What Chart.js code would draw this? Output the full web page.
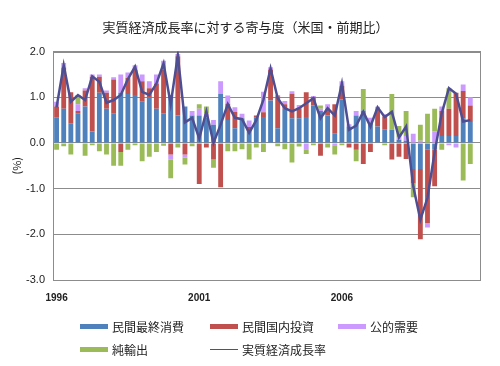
<!DOCTYPE html>
<html><head><meta charset="utf-8">
<script src="https://cdn.jsdelivr.net/npm/chart.js@4"></script>
<style>
html,body{margin:0;padding:0;background:#fff;}
#wrap{position:relative;width:500px;height:366px;overflow:hidden;}
#c{position:absolute;left:0;top:0;}
#legend{position:absolute;left:0;top:0;width:500px;height:366px;pointer-events:none;font-family:"Noto Sans CJK JP",sans-serif;font-size:12px;color:#222;}
.item{position:absolute;display:flex;align-items:center;height:16px;white-space:nowrap;}
.sw{display:inline-block;width:28px;margin-right:4px;}
</style></head>
<body><div id="wrap"><canvas id="c" width="500" height="366"></canvas><div id="legend"></div></div>
<script>
const categories = [
 '1996Q1','1996Q2','1996Q3','1996Q4','1997Q1','1997Q2','1997Q3','1997Q4','1998Q1','1998Q2',
 '1998Q3','1998Q4','1999Q1','1999Q2','1999Q3','1999Q4','2000Q1','2000Q2','2000Q3','2000Q4',
 '2001Q1','2001Q2','2001Q3','2001Q4','2002Q1','2002Q2','2002Q3','2002Q4','2003Q1','2003Q2',
 '2003Q3','2003Q4','2004Q1','2004Q2','2004Q3','2004Q4','2005Q1','2005Q2','2005Q3','2005Q4',
 '2006Q1','2006Q2','2006Q3','2006Q4','2007Q1','2007Q2','2007Q3','2007Q4','2008Q1','2008Q2',
 '2008Q3','2008Q4','2009Q1','2009Q2','2009Q3','2009Q4','2010Q1','2010Q2','2010Q3','2010Q4'];
const xTickLabels = {'1996Q1':'1996','2001Q1':'2001','2006Q1':'2006'};
const yTicks = [-3,-2,-1,0,1,2];

const consumption = [0.55,0.75,0.43,0.65,0.8,0.25,1.1,0.75,0.64,1.1,
 1.07,1.05,0.9,1.0,0.75,0.65,1.05,0.6,0.8,0.6,
 0.6,0.55,0.4,1.07,0.5,0.32,0.54,0.25,0.55,0.57,
 0.93,0.32,0.75,0.54,0.54,0.57,0.82,0.7,0.6,0.2,
 0.95,0.36,0.6,0.71,0.45,0.36,0.3,0.29,0.07,0.05,
 -0.57,-0.57,-0.15,-0.15,0.15,0.15,0.15,0.54,0.46,null];
const investment = [0.25,0.9,0.68,0.05,0.35,1.2,0.35,0.35,0.75,-0.2,
 0.35,0.55,0.45,0.2,0.55,0.95,-0.25,1.3,-0.25,0.0,
 -0.9,-0.1,-0.36,-0.97,0.36,0.36,0.0,0.1,0.05,0.1,
 0.68,0.7,0.1,0.54,0.22,0.54,0.18,-0.28,0.15,0.65,
 0.3,-0.1,-0.15,-0.46,-0.2,0.36,0.28,-0.36,-0.3,-0.35,
 -0.32,-1.54,-1.6,-0.8,0.55,0.6,0.95,0.6,0.36,null];
const publicDemand = [0.1,0.1,0.0,0.15,0.05,0.05,0.05,0.05,0.05,0.4,
 0.12,0.1,0.15,0.15,0.2,0.2,-0.12,0.05,-0.07,0.1,
 0.15,0.1,0.1,0.28,0.18,0.1,0.1,0.14,0.0,0.45,
 0.05,0.03,0.07,0.05,0.07,-0.14,0.03,0.05,0.1,-0.05,
 0.1,0.05,0.1,0.0,0.1,0.07,0.05,0.0,0.05,0.1,
 0.2,0.05,-0.1,0.25,0.1,-0.05,-0.1,0.14,0.18,null];
const netExports = [-0.15,-0.07,-0.25,0.2,-0.28,-0.05,-0.18,-0.25,-0.5,-0.3,
 -0.15,-0.05,-0.4,-0.3,-0.2,-0.06,-0.4,-0.1,-0.15,-0.07,
 0.1,0.15,-0.18,0.0,-0.18,-0.18,-0.14,-0.36,-0.1,-0.2,
 0.0,-0.07,-0.14,-0.43,-0.08,-0.1,-0.05,0.07,-0.1,-0.2,
 -0.05,0.0,-0.25,0.47,0.0,0.0,-0.05,0.78,0.25,0.55,
 -0.3,0.35,0.64,0.5,-0.15,0.45,0.0,-0.82,-0.46,null];
const realGrowth = [0.78,1.7,0.9,1.05,0.94,1.46,1.34,0.88,0.94,1.05,
 1.4,1.67,1.12,1.05,1.3,1.74,0.85,1.92,0.45,0.55,
 0.1,0.69,0.0,0.4,0.85,0.55,0.52,0.22,0.5,0.95,
 1.63,0.98,0.76,0.69,0.76,0.87,0.98,0.54,0.76,0.6,
 1.3,0.29,0.38,0.68,0.36,0.78,0.57,0.68,0.12,0.36,
 -0.95,-1.68,-1.2,-0.2,0.65,1.2,1.08,0.47,0.5,null];

const seriesNames = ['民間最終消費','民間国内投資','公的需要','純輸出','実質経済成長率'];
const seriesColors = ['#4F81BD','#C0504D','#CC99FF','#9BBB59','#4E4E92'];
const titleText = '実質経済成長率に対する寄与度（米国・前期比）';

const bar = (i, data) => ({type:'bar', label:seriesNames[i], data, backgroundColor:seriesColors[i],
  borderWidth:0, stack:'c', order:1, barPercentage:0.68, categoryPercentage:1});

const boxPlugin = {
  id:'box',
  beforeDatasetsDraw(chart){
    const a = chart.chartArea, ctx = chart.ctx;
    ctx.save(); ctx.strokeStyle = '#8c8c8c'; ctx.lineWidth = 1;
    ctx.strokeRect(Math.round(a.left)+0.5, Math.round(a.top)+0.5, Math.round(a.right-a.left)-1, Math.round(a.bottom-a.top));
    ctx.restore();
  }
};

const chart = new Chart(document.getElementById('c'), {
  data:{
    labels: categories,
    datasets:[
      bar(0, consumption), bar(1, investment), bar(2, publicDemand), bar(3, netExports),
      {type:'line', label:seriesNames[4], data:realGrowth, borderColor:seriesColors[4], borderWidth:2.5,
       pointRadius:0, tension:0, stack:'g', order:0, fill:false}
    ]
  },
  options:{
    responsive:false, animation:false,
    layout:{padding:{left:10, right:19, top:0, bottom:50}},
    plugins:{
      legend:{display:false}, tooltip:{enabled:false},
      title:{display:true, text:titleText, color:'#222',
        font:{size:13, family:'"Noto Sans CJK JP", sans-serif', weight:'normal'},
        padding:{top:19, bottom:17}}
    },
    scales:{
      x:{stacked:true, offset:true, grid:{display:false, drawTicks:false}, border:{display:false},
        ticks:{autoSkip:false, maxRotation:0, minRotation:0, padding:12, color:'#222',
          font:{size:10, family:'"Liberation Sans", sans-serif', weight:'bold'},
          callback(v, i){ return xTickLabels[categories[i]] || ''; }}},
      y:{stacked:true, min:-3, max:2,
        afterBuildTicks(s){ s.ticks = yTicks.map(v => ({value:v})); },
        afterFit(s){ s.width = 43; },
        grid:{color:'#8c8c8c', drawTicks:false, lineWidth:1}, border:{display:false},
        ticks:{padding:8, color:'#222', font:{size:11, family:'"Liberation Sans", sans-serif'},
          callback(v){ return Number(v).toFixed(1); }},
        title:{display:true, text:'(%)', color:'#222', padding:{top:0,bottom:0},
          font:{size:11, family:'"Noto Sans CJK JP", sans-serif'}}}
    }
  },
  plugins:[boxPlugin]
});

// legend (HTML, built from the chart's datasets)
const legendPos = [[80,318],[210,318],[338,318],[80,341],[210,341]];
const lg = document.getElementById('legend');
chart.data.datasets.forEach((ds, i) => {
  const d = document.createElement('div');
  d.className = 'item';
  d.style.left = legendPos[i][0] + 'px';
  d.style.top = legendPos[i][1] + 'px';
  const sw = document.createElement('span');
  sw.className = 'sw';
  if (ds.type === 'line') { sw.style.height = '1px'; sw.style.background = '#555'; }
  else { sw.style.height = '5px'; sw.style.background = ds.backgroundColor; }
  d.appendChild(sw);
  d.appendChild(document.createTextNode(ds.label));
  lg.appendChild(d);
});
</script>
</body></html>
